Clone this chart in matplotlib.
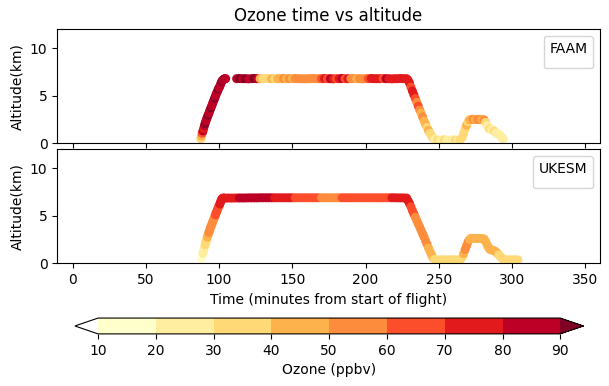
import matplotlib
matplotlib.use('Agg')
import matplotlib.pyplot as plt
from matplotlib.colors import ListedColormap, BoundaryNorm

# FAAM aircraft track: time (min), altitude (km), ozone (ppbv)
faam_time = [6, 11, 16, 21, 27, 33, 38, 43,
             87.5, 88, 88.5, 89, 89.5, 90, 90.5, 91, 91.5, 92, 92.5, 93, 93.5, 94, 94.5, 95, 95.5,
             96, 96.5, 97, 97.5, 98, 98.5, 99, 99.5, 100, 100.5, 101, 101.5, 102, 102.5, 103, 103.5,
             104, 104.5,
             112, 114, 116, 118, 120, 122, 124, 126, 128, 130, 132, 134, 136, 138, 140, 142, 144,
             146, 148, 150, 152, 154, 156, 158, 160, 162, 164, 166, 168, 170, 172, 174, 176, 178,
             180, 182, 184, 186, 188, 190, 192, 194, 196, 198, 200, 202, 204, 206, 208, 210, 212,
             214, 216, 218, 220, 222, 224, 226,
             228, 229, 230, 231, 232, 233, 234, 235, 236, 237, 238, 239, 240, 241, 242, 243, 244,
             245, 246, 247,
             248, 249.5, 251, 252.5, 254, 255.5, 257, 258.5, 260, 261.5, 263, 264.5,
             266, 267, 268, 269, 270, 271,
             272, 273.5, 275, 276.5, 278, 279.5, 281,
             282, 283, 284, 285, 286, 287, 288, 289, 290, 291, 292, 293, 294]
faam_alt = [0.1, 0.12, 0.1, 0.1, 0.12, 0.1, 0.1, 0.12,
            0.45, 0.75, 1.05, 1.3, 1.55, 1.85, 2.1, 2.35, 2.55, 2.75, 2.95, 3.15, 3.35, 3.55, 3.75,
            3.95, 4.15, 4.35, 4.55, 4.75, 4.95, 5.15, 5.35, 5.5, 5.7, 5.85, 6.0, 6.2, 6.4, 6.55,
            6.65, 6.72, 6.77, 6.8, 6.8,
            6.8, 6.82, 6.8, 6.8, 6.78, 6.8, 6.82, 6.8, 6.8, 6.8, 6.82, 6.8, 6.8, 6.78, 6.8, 6.8,
            6.82, 6.8, 6.8, 6.8, 6.82, 6.8, 6.8, 6.78, 6.8, 6.8, 6.82, 6.8, 6.8, 6.8, 6.82, 6.8,
            6.8, 6.78, 6.8, 6.8, 6.82, 6.8, 6.8, 6.8, 6.82, 6.8, 6.8, 6.78, 6.8, 6.8, 6.82, 6.8,
            6.8, 6.8, 6.82, 6.8, 6.8, 6.78, 6.8, 6.8, 6.82, 6.8,
            6.8, 6.65, 6.35, 5.9, 5.5, 5.1, 4.7, 4.3, 3.9, 3.5, 3.15, 2.75, 2.35, 2.0, 1.65, 1.35,
            1.05, 0.8, 0.55, 0.4,
            0.35, 0.33, 0.32, 0.33, 0.35, 0.33, 0.32, 0.33, 0.34, 0.33, 0.32, 0.35,
            0.6, 1.05, 1.5, 1.9, 2.25, 2.45,
            2.5, 2.52, 2.5, 2.5, 2.52, 2.5, 2.45,
            2.2, 1.85, 1.6, 1.5, 1.45, 1.4, 1.25, 1.1, 1.0, 0.95, 0.8, 0.6, 0.45]
faam_o3 = [8, 6, 7, 9, 8, 7, 6, 8,
           35, 45, 65, 85, 75, 85, 92, 85, 88, 84, 92, 86, 88, 85, 92, 86, 88, 84, 86, 92, 85,
           88, 86, 84, 92, 85, 88, 86, 85, 92, 88, 85, 86, 92, 88,
           85, 92, 85, 92, 88, 85, 92, 85, 45, 35, 38, 35, 45, 35, 42, 45, 55, 45, 55, 45, 55,
           52, 55, 55, 52, 55, 58, 55, 55, 65, 75, 65, 85, 75, 65, 75, 85, 65, 75, 55, 52, 45,
           55, 52, 55, 65, 75, 72, 75, 75, 65, 85, 75, 72, 75, 75, 72, 75,
           75, 72, 75, 65, 75, 72, 65, 55, 65, 55, 45, 55, 45, 42, 35, 45, 38, 35, 32, 25,
           25, 35, 25, 28, 35, 25, 22, 28, 25, 35, 28, 32,
           35, 32, 38, 45, 35, 45,
           45, 55, 45, 52, 55, 45, 55,
           35, 28, 25, 35, 28, 25, 32, 25, 28, 25, 22, 25, 28]

# UKESM model along the same flight
ukesm_time = [88, 88.5, 89, 89.5, 90, 90.5, 91, 91.5, 92, 92.5, 93, 93.5, 94, 94.5, 95, 95.5,
              96, 96.5, 97, 97.5, 98, 98.5, 99, 99.5, 100, 100.5, 101, 101.5, 102, 102.5, 103,
              104, 106, 108, 110, 112,
              114, 116, 118, 120, 122, 124, 126, 128, 130, 132, 134, 136,
              138, 140, 142, 144, 146, 148, 150,
              152, 154, 156, 158, 160, 162, 164, 166, 168,
              170, 172, 174, 176, 178, 180, 182,
              184, 186, 188, 190, 192, 194, 196, 198, 200, 202, 204, 206, 208, 210, 212, 214, 216,
              218, 220, 222, 224, 226,
              228, 229, 230, 231, 232, 233, 234, 235, 236, 237, 238, 239, 240, 241, 242, 243,
              244, 245, 246, 247,
              248, 249.5, 251, 252.5, 254, 255.5, 257, 258.5, 260, 261.5, 263, 264.5,
              266, 267, 268, 269, 270, 271,
              272, 273.5, 275, 276.5, 278, 279.5, 281,
              282, 283, 284, 285, 286, 287, 288, 289, 290, 291, 292, 293, 294,
              295, 296.5, 298, 299.5, 301, 302.5, 304]
ukesm_alt = [0.45, 0.75, 1.05, 1.35, 1.65, 1.95, 2.25, 2.5, 2.75, 3.0, 3.25, 3.45, 3.7, 3.9,
             4.1, 4.3, 4.5, 4.7, 4.9, 5.1, 5.3, 5.5, 5.7, 5.9, 6.05, 6.25, 6.45, 6.65, 6.8,
             6.85, 6.87,
             6.87, 6.87, 6.87, 6.87, 6.88,
             6.88, 6.88, 6.88, 6.89, 6.89, 6.89, 6.89, 6.9, 6.9, 6.9, 6.9, 6.9,
             6.9, 6.9, 6.9, 6.9, 6.9, 6.9, 6.9,
             6.9, 6.9, 6.9, 6.9, 6.9, 6.9, 6.9, 6.9, 6.9,
             6.9, 6.9, 6.9, 6.9, 6.9, 6.9, 6.9,
             6.9, 6.9, 6.9, 6.9, 6.9, 6.9, 6.9, 6.9, 6.9, 6.9, 6.9, 6.9, 6.9, 6.9, 6.9, 6.9, 6.9,
             6.9, 6.9, 6.89, 6.89, 6.88,
             6.87, 6.6, 6.3, 5.95, 5.55, 5.2, 4.85, 4.5, 4.15, 3.8, 3.45, 3.1, 2.75, 2.35, 2.0,
             1.6, 1.25, 0.9, 0.6, 0.4,
             0.35, 0.35, 0.35, 0.35, 0.35, 0.35, 0.35, 0.35, 0.35, 0.35, 0.35, 0.35,
             0.6, 1.0, 1.45, 1.85, 2.25, 2.5,
             2.62, 2.62, 2.62, 2.62, 2.62, 2.6, 2.55,
             2.3, 1.95, 1.65, 1.45, 1.4, 1.38, 1.3, 1.2, 1.05, 0.9, 0.7, 0.55, 0.45,
             0.35, 0.35, 0.35, 0.35, 0.35, 0.35, 0.35]
ukesm_o3 = [15, 15, 22, 22, 25, 35, 35, 35, 45, 45, 55, 55, 55, 55, 55, 55, 55, 55, 55, 65,
            65, 65, 65, 65, 65, 75, 75, 75, 75, 75, 75,
            75, 75, 75, 75, 75,
            85, 85, 85, 85, 85, 85, 85, 85, 85, 85, 85, 85,
            75, 75, 75, 75, 75, 75, 75,
            65, 65, 65, 65, 65, 65, 65, 65, 65,
            55, 55, 55, 55, 55, 55, 55,
            65, 65, 65, 65, 65, 65, 65, 65, 65, 65, 65, 65, 65, 65, 65, 65, 65,
            75, 75, 75, 75, 75,
            75, 75, 75, 65, 65, 65, 55, 55, 55, 55, 55, 55, 55, 55, 55, 45, 45, 45, 45, 35,
            35, 35, 35, 35, 35, 35, 35, 35, 35, 35, 35, 35,
            35, 45, 55, 55, 55, 45,
            45, 45, 45, 45, 45, 45, 45,
            45, 45, 45, 45, 45, 45, 45, 45, 45, 35, 35, 35, 35,
            35, 35, 35, 35, 35, 35, 35]

levels = [10, 20, 30, 40, 50, 60, 70, 80, 90]
bin_colors = ['#ffffcc', '#ffeda0', '#fed976', '#feb24c', '#fd8d3c',
              '#fc4e2a', '#e31a1c', '#bd0026']


def main():
    cmap = ListedColormap(bin_colors).with_extremes(under='white', over='#800026')
    norm = BoundaryNorm(levels, cmap.N)

    fig = plt.figure(figsize=(6.09, 3.86), dpi=100)
    ax1 = fig.add_axes([0.094, 0.629, 0.891, 0.295])
    ax2 = fig.add_axes([0.094, 0.318, 0.891, 0.295], sharex=ax1)
    # colorbar axes spans the extension triangles too
    cax = fig.add_axes([0.123, 0.135, 0.835, 0.041])

    sc = ax1.scatter(faam_time, faam_alt, c=faam_o3, cmap=cmap, norm=norm, s=30)
    ax2.scatter(ukesm_time, ukesm_alt, c=ukesm_o3, cmap=cmap, norm=norm, s=30)

    for ax, name in [(ax1, 'FAAM'), (ax2, 'UKESM')]:
        ax.set_ylim(0, 12)
        ax.set_ylabel('Altitude(km)')
        ax.legend(handles=[], title=name, loc='upper right')
    ax1.set_xlim(-10.5, 360)
    ax1.set_title('Ozone time vs altitude')
    plt.setp(ax1.get_xticklabels(), visible=False)
    ax2.set_xlabel('Time (minutes from start of flight)')

    fig.colorbar(sc, cax=cax, orientation='horizontal', extend='both',
                 ticks=levels, label='Ozone (ppbv)')
    plt.savefig('out.png')


if __name__ == "__main__":
    main()
